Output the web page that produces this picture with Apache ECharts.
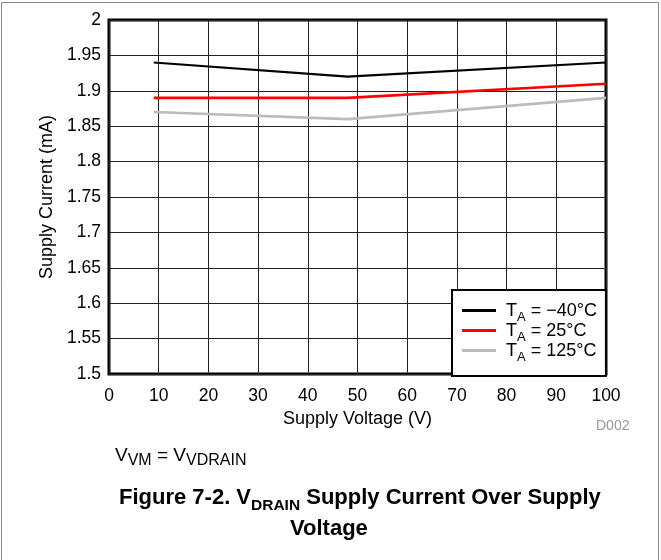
<!DOCTYPE html>
<html><head><meta charset="utf-8">
<script src="https://cdn.jsdelivr.net/npm/echarts@6/dist/echarts.min.js"></script>
<style>html,body{margin:0;padding:0;background:#fff}#c{width:661px;height:560px}</style>
</head><body><div id="c"></div>
<script>
const voltage = [9, 48, 100];
const tMinus40 = [1.94, 1.92, 1.94];
const t25 = [1.89, 1.89, 1.91];
const t125 = [1.87, 1.86, 1.89];
const seriesNames = ['T_A = −40°C', 'T_A = 25°C', 'T_A = 125°C'];
const seriesColors = ['#000000', '#ff0000', '#bbbbbb'];
const xTicks = {min: 0, max: 100, interval: 10};
const yTicks = {min: 1.5, max: 2, interval: 0.05};
const FONT = '"Liberation Sans", Arial, sans-serif';

const chart = echarts.init(document.getElementById('c'), null, {renderer: 'canvas'});
const allData = [tMinus40, t25, t125];
const series = allData.map((vals, i) => ({
  name: seriesNames[i], type: 'line', symbol: 'none',
  data: voltage.map((v, j) => [v, vals[j]]),
  lineStyle: {color: seriesColors[i], width: i === 0 ? 2.2 : 2.6},
  itemStyle: {color: seriesColors[i]}, z: 3
}));

function legendFmt(name) {
  const parts = name.split('_A');
  return '{n|' + parts[0] + '}{s|A}{n|' + parts[1] + '}';
}

chart.setOption({
  animation: false,
  textStyle: {fontFamily: FONT},
  grid: {left: 109, top: 20, width: 497, height: 354, show: true, borderColor: '#000', borderWidth: 3, backgroundColor: 'transparent'},
  xAxis: {
    type: 'value', min: xTicks.min, max: xTicks.max, interval: xTicks.interval,
    name: 'Supply Voltage (V)', nameLocation: 'middle', nameGap: 31,
    nameTextStyle: {fontSize: 18, color: '#000', fontFamily: FONT},
    axisLine: {show: false}, axisTick: {show: false},
    axisLabel: {fontSize: 17.5, color: '#000', margin: 13, fontFamily: FONT},
    splitLine: {show: true, lineStyle: {color: '#222', width: 1}}
  },
  yAxis: {
    type: 'value', min: yTicks.min, max: yTicks.max, interval: yTicks.interval,
    name: 'Supply Current (mA)', nameLocation: 'middle', nameGap: 52, nameRotate: 90,
    nameTextStyle: {fontSize: 18, color: '#000', fontFamily: FONT},
    axisLine: {show: false}, axisTick: {show: false},
    axisLabel: {fontSize: 17.5, color: '#000', margin: 8, fontFamily: FONT,
      formatter: v => String(parseFloat(v.toFixed(2)))},
    splitLine: {show: true, lineStyle: {color: '#222', width: 1}}
  },
  legend: {
    orient: 'vertical', left: 452, top: 290,
    backgroundColor: '#fff', borderColor: '#000', borderWidth: 2,
    padding: [12, 9, 12, 10], itemGap: -2,
    icon: 'rect', itemWidth: 34, itemHeight: 3,
    data: seriesNames,
    formatter: legendFmt,
    textStyle: {
      color: '#000', fontFamily: FONT, padding: [0, 0, 0, 5],
      rich: {
        n: {fontSize: 18, fontFamily: FONT, color: '#000', lineHeight: 19, verticalAlign: 'bottom'},
        s: {fontSize: 13, fontFamily: FONT, color: '#000', lineHeight: 19, verticalAlign: 'bottom', padding: [0, 0, -4, 0]}
      }
    }
  },
  graphic: [
    {type: 'rect', shape: {x: 1.5, y: 2.5, width: 657, height: 600}, style: {fill: 'none', stroke: '#888', lineWidth: 1}, silent: true},
    {type: 'text', left: 596, top: 419, style: {text: 'D002', fontSize: 14, fill: '#999', fontFamily: FONT}},
    {type: 'text', left: 115, top: 446, style: {
      text: '{n|V}{s|VM}{n| = V}{s|VDRAIN}',
      rich: {
        n: {fontSize: 19, fontFamily: FONT, fill: '#000', lineHeight: 20, verticalAlign: 'bottom'},
        s: {fontSize: 16, fontFamily: FONT, fill: '#000', lineHeight: 20, verticalAlign: 'bottom', padding: [0, 0, -4, 0]}
      }}},
    {type: 'text', left: 119, top: 487, style: {
      text: '{n|Figure 7-2. V}{s|DRAIN}{n| Supply Current Over Supply}',
      rich: {
        n: {fontSize: 22, fontWeight: 'bold', fontFamily: FONT, fill: '#000', lineHeight: 25, verticalAlign: 'bottom'},
        s: {fontSize: 15.5, fontWeight: 'bold', fontFamily: FONT, fill: '#000', lineHeight: 25, verticalAlign: 'bottom', padding: [0, 0, -5, 0]}
      }}},
    {type: 'text', left: 290, top: 518, style: {
      text: 'Voltage', fontSize: 22, fontWeight: 'bold', fontFamily: FONT, fill: '#000'}}
  ],
  series: series
});
</script></body></html>
